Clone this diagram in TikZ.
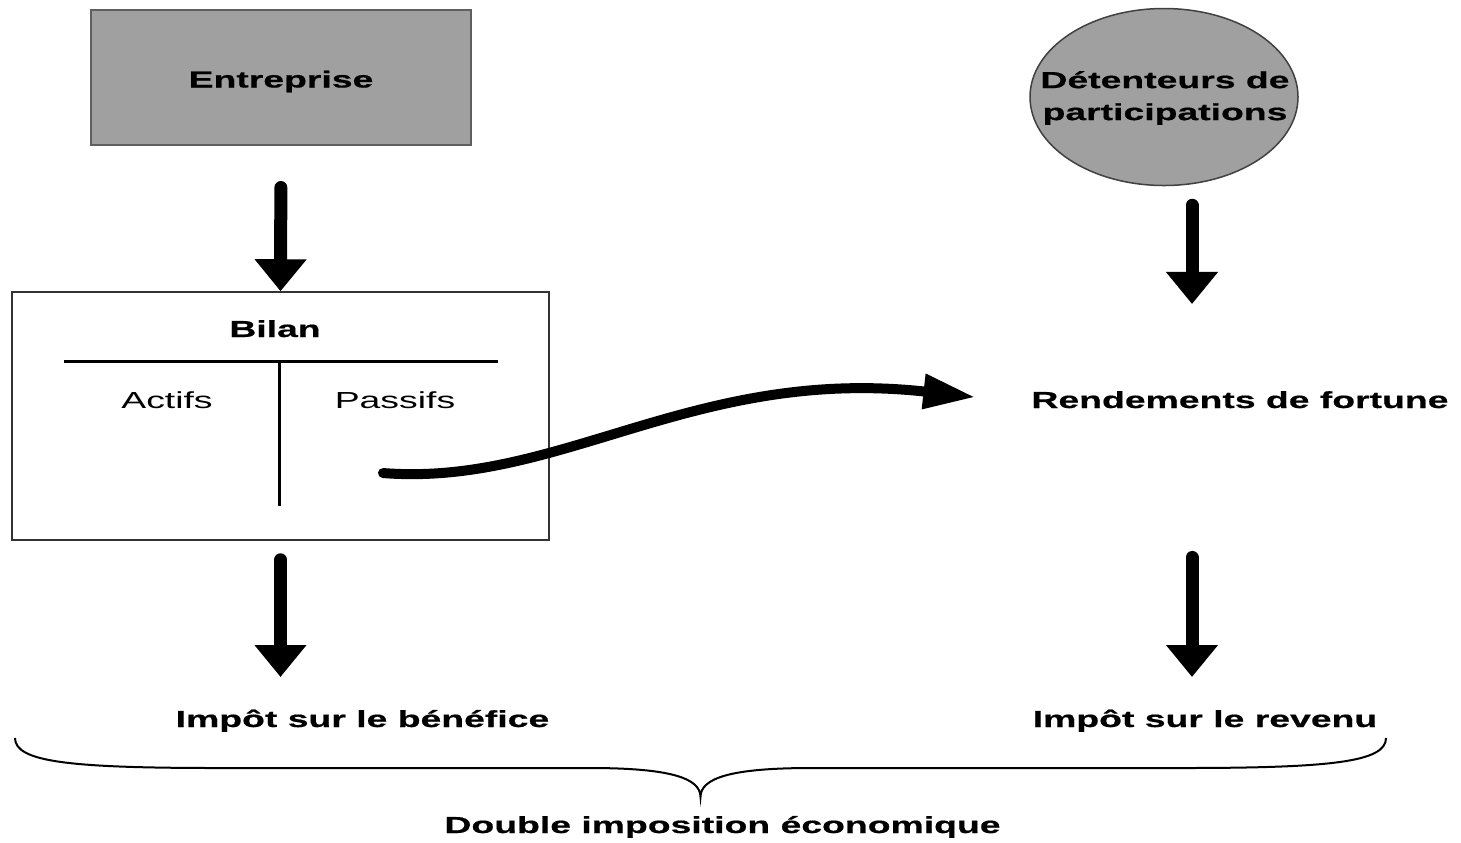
\documentclass[tikz,border=0pt]{standalone}
\usepackage{fontspec}
\newfontfamily\diagfont[FakeStretch=1.61, BoldFeatures={FakeBold=0.6}]{Liberation Sans}
\newcommand{\diagsize}{\fontsize{6.6}{9.1}\selectfont}
\usetikzlibrary{arrows.meta,calc,shapes.geometric}

\definecolor{boxgray}{RGB}{160,160,160}
\definecolor{edgegray}{RGB}{95,95,95}

\begin{document}
\begin{tikzpicture}[
    font=\diagfont\diagsize,
    txt/.style={text height=0.17cm, text depth=0.05cm, anchor=base},
    boldtxt/.style={txt, font=\diagfont\bfseries\diagsize},
    bigarrow/.style={line width=0.13cm, line cap=round, -{Triangle[width=0.5cm,length=0.32cm]}},
    bendarrow/.style={line width=0.1cm, line cap=round, -{Triangle[width=0.33cm,length=0.52cm]}},
    tline/.style={line width=0.03cm}
]
\useasboundingbox (0,0) rectangle (14.61,-8.42);

% =========================================================================
% 1. ENTREPRISE ET BILAN
% =========================================================================
\node[draw=edgegray, line width=0.02cm, fill=boxgray, minimum width=3.80cm, minimum height=1.35cm,
      text height=0.2cm, text depth=0cm, font=\diagfont\bfseries\diagsize]
    (entreprise) at (2.81,-0.775) {Entreprise};

\node[draw=black!80, line width=0.015cm, minimum width=5.37cm, minimum height=2.48cm]
    (bilan) at (2.805,-4.16) {};
\node[boldtxt] (bilantitle) at (2.75,-3.37) {Bilan};
\node[txt] (actifs) at (1.67,-4.08) {Actifs};
\node[txt] (passifs) at (3.95,-4.08) {Passifs};

% Compte en T
\draw[tline] (0.64,-3.61) -- (4.98,-3.61);
\draw[tline] (2.79,-3.61) -- (2.79,-5.06);

\draw[bigarrow, shorten <=0.415cm] (entreprise.south) -- (bilan.north);

% =========================================================================
% 2. DETENTEURS ET RENDEMENTS
% =========================================================================
\coordinate (rcol) at (11.92,0);

\node[ellipse, draw=black!75, line width=0.015cm, fill=boxgray, minimum width=2.68cm, minimum height=1.77cm]
    (detenteurs) at (11.64,-0.97) {};
\node[font=\diagfont\bfseries\diagsize, align=center, inner sep=0pt]
    (detlabel) at (11.65,-0.98) {Détenteurs de\\participations};

\node[boldtxt] (rendements) at (12.40,-4.08) {Rendements de fortune};

\draw[bigarrow, shorten <=0.19cm, shorten >=0.746cm]
    (rcol |- detenteurs.south) -- (rcol |- rendements.north);

% Passifs -> rendements
\draw[bendarrow, shorten >=0.44cm]
    ($(passifs.south)+(-0.12,-0.476)$) .. controls +(1.77,-0.14) and +(-3.25,0.36) .. (rendements.west);

% =========================================================================
% 3. IMPOTS
% =========================================================================
\node[boldtxt] (impotbenef) at (3.625,-7.27) {Impôt sur le bénéfice};
\node[boldtxt] (impotrevenu) at (12.05,-7.27) {Impôt sur le revenu};

\draw[bigarrow, shorten <=0.19cm, shorten >=0.206cm]
    (bilan.south) -- (bilan.south |- impotbenef.north);
\draw[bigarrow, shorten <=1.32cm, shorten >=0.206cm]
    (rcol |- rendements.south) -- (rcol |- impotrevenu.north);

% Accolade
\coordinate (braceL) at (0.15,-7.38);
\coordinate (braceR) at (13.86,-7.38);
\coordinate (bracetip) at (7.005,-7.97);
\draw[line width=0.02cm]
    (braceL) .. controls (0.15,-7.62) and (0.7,-7.68) .. (2.2,-7.68)
    -- (5.9,-7.68) .. controls (6.7,-7.68) and (7.005,-7.78) .. (bracetip)
    .. controls (7.005,-7.78) and (7.31,-7.68) .. (8.11,-7.68)
    -- (11.81,-7.68) .. controls (13.31,-7.68) and (13.86,-7.62) .. (braceR);

\node[boldtxt] (double) at (7.225,-8.33) {Double imposition économique};

\end{tikzpicture}
\end{document}
